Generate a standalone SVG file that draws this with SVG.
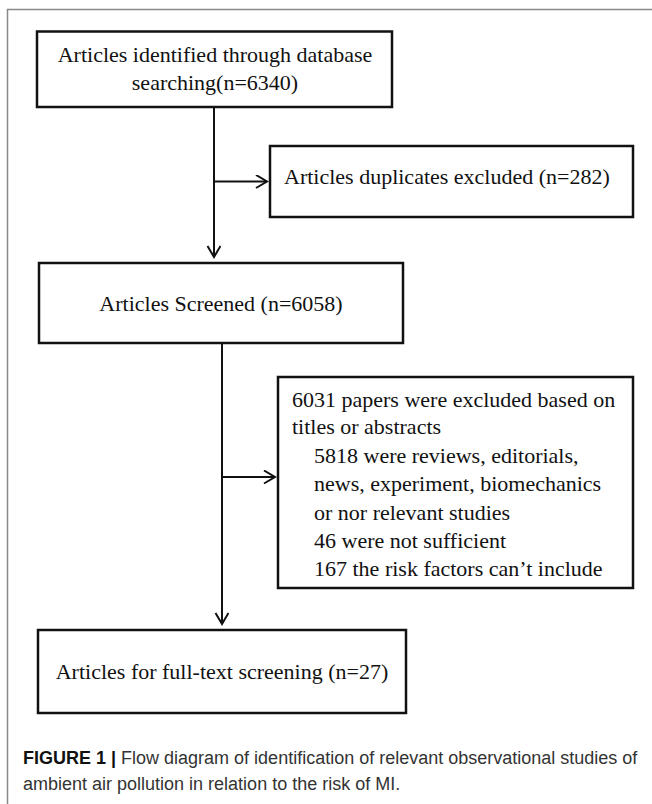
<svg xmlns="http://www.w3.org/2000/svg" width="652" height="804" viewBox="0 0 652 804">
<defs>
<style>
.box{fill:#fff;stroke:#111;stroke-width:2.5}
.t{font-family:"Liberation Serif","Times New Roman",serif;font-size:22px;fill:#111}
.c{text-anchor:middle}
.conn{stroke:#111;stroke-width:2;fill:none}
.cap{font-family:"Liberation Sans",Arial,sans-serif;font-size:18px;fill:#333}
</style>
<marker id="ah" markerUnits="userSpaceOnUse" markerWidth="16" markerHeight="16" refX="12" refY="7" orient="auto">
<path d="M1,0.5 L12,7 L1,13.5" fill="none" stroke="#111" stroke-width="2"/>
</marker>
</defs>
<rect width="652" height="804" fill="#fff"/>
<path d="M7.5,804 V9.5 H652" fill="none" stroke="#888" stroke-width="1.5"/>
<g id="n1">
<rect class="box" x="37" y="31.5" width="355" height="75.5"/>
<text class="t c" x="215" y="62">Articles identified through database</text>
<text class="t c" x="215" y="90">searching(n=6340)</text>
</g>
<g id="n2">
<rect class="box" x="270" y="146" width="363" height="71"/>
<text class="t" x="284" y="184">Articles duplicates excluded (n=282)</text>
</g>
<g id="n3">
<rect class="box" x="39" y="263" width="364" height="80"/>
<text class="t c" x="221" y="311">Articles Screened (n=6058)</text>
</g>
<g id="n4">
<rect class="box" x="278" y="377" width="355" height="211"/>
<text class="t" x="292" y="407">6031 papers were excluded based on</text>
<text class="t" x="292" y="434">titles or abstracts</text>
<text class="t" x="314" y="463">5818 were reviews, editorials,</text>
<text class="t" x="314" y="491">news, experiment, biomechanics</text>
<text class="t" x="314" y="520">or nor relevant studies</text>
<text class="t" x="314" y="548">46 were not sufficient</text>
<text class="t" x="314" y="576">167 the risk factors can’t include</text>
</g>
<g id="n5">
<rect class="box" x="38" y="630" width="368" height="83"/>
<text class="t c" x="222" y="679">Articles for full-text screening (n=27)</text>
</g>
<g id="connectors">
<line class="conn" x1="214" y1="107" x2="214" y2="257" marker-end="url(#ah)"/>
<line class="conn" x1="214" y1="181.5" x2="267" y2="181.5" marker-end="url(#ah)"/>
<line class="conn" x1="222" y1="343" x2="222" y2="624" marker-end="url(#ah)"/>
<line class="conn" x1="222" y1="477" x2="275" y2="477" marker-end="url(#ah)"/>
</g>
<g id="caption">
<text class="cap" x="23" y="764"><tspan font-weight="bold" fill="#111">FIGURE 1 |</tspan> Flow diagram of identification of relevant observational studies of</text>
<text class="cap" x="23" y="790">ambient air pollution in relation to the risk of MI.</text>
</g>
</svg>
